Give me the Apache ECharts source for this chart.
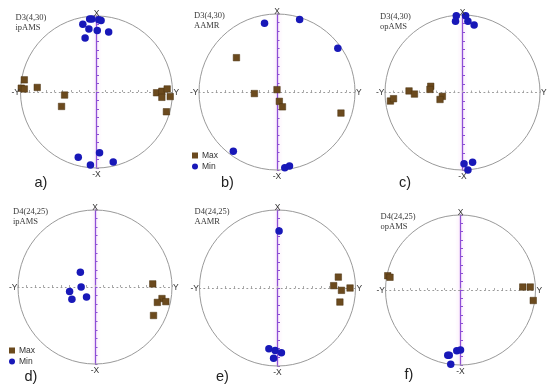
<!DOCTYPE html>
<html><head><meta charset="utf-8">
<script src="https://cdn.jsdelivr.net/npm/echarts@6/dist/echarts.min.js"></script>
<style>html,body{margin:0;padding:0;background:#fff}#c{width:550px;height:390px}</style>
</head><body><div id="c"></div>
<script>
// ---- data (normalised stereonet coordinates: h toward Y, v toward X) ----
const panelLabels = ['a)', 'b)', 'c)', 'd)', 'e)', 'f)'];
const sampleNames = ['D3(4,30)', 'D3(4,30)', 'D3(4,30)', 'D4(24,25)', 'D4(24,25)', 'D4(24,25)'];
const methodNames = ['ipAMS', 'AAMR', 'opAMS', 'ipAMS', 'AAMR', 'opAMS'];
const directionLabels = ['X', '-X', '-Y', 'Y'];
const seriesNames = ['Max', 'Min'];

const maxA = [[-0.95,0.16],[-0.99,0.05],[-0.95,0.04],[-0.78,0.06],[-0.42,-0.04],[-0.46,-0.19],[0.79,-0.01],[0.86,0.01],[0.93,0.04],[0.86,-0.07],[0.97,-0.06],[0.92,-0.26]];
const minA = [[-0.18,0.89],[-0.06,0.96],[-0.09,0.96],[0.03,0.95],[0.06,0.94],[-0.10,0.83],[0.01,0.81],[0.16,0.79],[-0.15,0.71],[-0.24,-0.86],[0.04,-0.80],[0.22,-0.92],[-0.08,-0.96]];
const maxB = [[-0.52,0.44],[-0.29,-0.02],[0.00,0.03],[0.03,-0.12],[0.07,-0.19],[0.82,-0.27]];
const minB = [[-0.16,0.88],[0.29,0.93],[0.78,0.56],[-0.56,-0.76],[0.10,-0.97],[0.16,-0.95]];
const maxC = [[-0.93,-0.11],[-0.89,-0.08],[-0.69,0.02],[-0.62,-0.02],[-0.41,0.08],[-0.42,0.04],[-0.26,-0.05],[-0.29,-0.09]];
const minC = [[-0.08,0.99],[-0.09,0.92],[0.04,0.99],[0.07,0.92],[0.15,0.87],[0.02,-0.92],[0.13,-0.90],[0.07,-1.00]];
const maxD = [[0.75,0.04],[0.87,-0.15],[0.81,-0.20],[0.92,-0.19],[0.76,-0.37]];
const minD = [[-0.19,0.19],[-0.18,0.00],[-0.33,-0.06],[-0.11,-0.13],[-0.30,-0.16]];
const maxE = [[0.78,0.14],[0.72,0.03],[0.93,0.00],[0.82,-0.03],[0.80,-0.18]];
const minE = [[0.02,0.73],[-0.11,-0.78],[-0.03,-0.80],[0.05,-0.83],[-0.05,-0.90]];
const maxF = [[-0.97,0.19],[-0.94,0.17],[0.83,0.04],[0.93,0.04],[0.97,-0.14]];
const minF = [[-0.17,-0.87],[-0.15,-0.87],[-0.05,-0.81],[0.00,-0.80],[-0.13,-0.99]];

const maxSets = [maxA, maxB, maxC, maxD, maxE, maxF];
const minSets = [minA, minB, minC, minD, minE, minF];

// ---- layout (pixels) ----
const layout = [  // circle centre x, centre y, radius
  [96.5, 92, 76], [277, 92, 78], [462.5, 92.5, 77.5],
  [95, 287, 77], [277.5, 288, 78], [460.5, 290, 75]
];
const labelPos = [[41,183],[227.5,183],[405,183],[31,377],[222.5,377],[409,375]];
const legendPos = [[192,151],[9,346]];

const COL_MAX = '#6b4a1e', COL_MIN = '#1818b8', COL_V = '#8e4fd6';

const chart = echarts.init(document.getElementById('c'), null, {renderer: 'canvas'});
const grids = [], xAxes = [], yAxes = [], series = [];
layout.forEach(([cx, cy, r], i) => {
  grids.push({left: cx - r, top: cy - r, width: 2 * r, height: 2 * r, containLabel: false});
  xAxes.push({
    type: 'value', gridIndex: i, min: -1, max: 1, interval: 1 / 9,
    axisLine: {onZero: true, lineStyle: {color: '#999', width: 1, type: [1, 3.3]}},
    axisTick: {show: true, inside: true, length: 2, lineStyle: {color: '#aaa', width: 1}},
    axisLabel: {show: false}, splitLine: {show: false}
  });
  yAxes.push({
    type: 'value', gridIndex: i, min: -1, max: 1, interval: 1 / 9,
    axisLine: {onZero: true, lineStyle: {color: COL_V, width: 1.3, shadowBlur: 4, shadowColor: 'rgba(240,150,240,0.6)'}},
    axisTick: {show: true, inside: true, length: 2.5, lineStyle: {color: COL_V, width: 1}},
    axisLabel: {show: false}, splitLine: {show: false}
  });
  series.push({
    type: 'scatter', name: seriesNames[0], xAxisIndex: i, yAxisIndex: i, data: maxSets[i],
    symbol: 'rect', symbolSize: 6.5, itemStyle: {color: COL_MAX, borderColor: '#4a3210', borderWidth: 0.5, opacity: 1},
    silent: true, z: 3
  });
  series.push({
    type: 'scatter', name: seriesNames[1], xAxisIndex: i, yAxisIndex: i, data: minSets[i],
    symbol: 'circle', symbolSize: 7.5, itemStyle: {color: COL_MIN, opacity: 1},
    silent: true, z: 4
  });
});

const legends = legendPos.map(([l, t]) => ({
  left: l, top: t, orient: 'vertical', itemGap: 2, itemWidth: 6, itemHeight: 6,
  selectedMode: false, padding: 0,
  textStyle: {fontSize: 8.5, color: '#333', fontFamily: 'Liberation Sans', padding: [0, 0, 0, -1]},
  data: [{name: 'Max', icon: 'rect', itemStyle: {color: COL_MAX, borderWidth: 0}}, {name: 'Min', icon: 'circle', itemStyle: {color: COL_MIN, borderWidth: 0}}]
}));

chart.setOption({
  animation: false, backgroundColor: '#fff',
  grid: grids, xAxis: xAxes, yAxis: yAxes, series: series, legend: legends
});

// circles and texts positioned through the grid scales
const graphic = [];
layout.forEach((_, i) => {
  const c = chart.convertToPixel({gridIndex: i}, [0, 0]);
  const e = chart.convertToPixel({gridIndex: i}, [1, 1]);
  const r = e[0] - c[0];
  const top = e[1];
  graphic.push({type: 'circle', shape: {cx: c[0], cy: c[1], r: r}, style: {fill: null, stroke: '#9a9a9a', lineWidth: 1}, silent: true, z: 1});
  const fs = {fontSize: 8.5, fontFamily: 'Liberation Sans', fill: '#333'};
  graphic.push({type: 'text', x: c[0], y: top - 2, style: Object.assign({text: directionLabels[0], align: 'center', verticalAlign: 'middle'}, fs), z: 5});
  graphic.push({type: 'text', x: c[0], y: c[1] + r + 7, style: Object.assign({text: directionLabels[1], align: 'center', verticalAlign: 'middle'}, fs), z: 5});
  graphic.push({type: 'text', x: c[0] - r - 0.5, y: c[1] + 0.5, style: Object.assign({text: directionLabels[2], align: 'right', verticalAlign: 'middle'}, fs), z: 5});
  graphic.push({type: 'text', x: c[0] + r + 1, y: c[1] + 0.5, style: Object.assign({text: directionLabels[3], align: 'left', verticalAlign: 'middle'}, fs), z: 5});
  const tf = {fontSize: 8.5, fontFamily: 'Liberation Serif', fill: '#3a3a3a', align: 'left', verticalAlign: 'middle'};
  graphic.push({type: 'text', x: c[0] - r - 5, y: top + 1.5, style: Object.assign({text: sampleNames[i]}, tf), z: 5});
  graphic.push({type: 'text', x: c[0] - r - 5, y: top + 11.5, style: Object.assign({text: methodNames[i]}, tf), z: 5});
  graphic.push({type: 'text', x: labelPos[i][0], y: labelPos[i][1], style: {text: panelLabels[i], fontSize: 14.5, fontFamily: 'Liberation Sans', fill: '#222', align: 'center', verticalAlign: 'middle'}, z: 5});
});
chart.setOption({graphic: graphic});
</script></body></html>
